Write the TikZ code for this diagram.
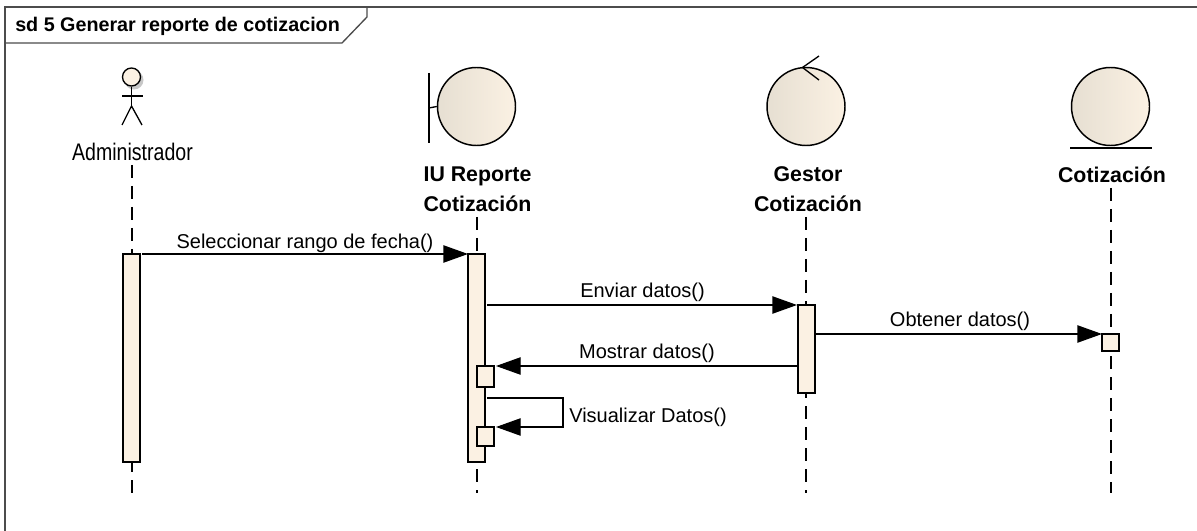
\documentclass[tikz,border=0pt]{standalone}
\usepackage{fontspec}
\setmainfont{Liberation Sans}
\usetikzlibrary{arrows.meta}
\definecolor{boxfill}{HTML}{FBF1E3}
\definecolor{ballleft}{HTML}{E6DFD2}
\tikzset{
 x=0.75pt,y=-0.75pt,
 line/.style={draw=black,line width=1pt},
 lifeline/.style={draw=black,line width=1pt,dash pattern=on 10pt off 5.75pt},
 bar/.style={draw=black,line width=1.1pt,fill=boxfill},
 msg/.style={line,-{Triangle[length=18.5pt,width=13pt]}},
 ball/.style={circle,draw=black,line width=1.1pt,minimum size=58.5pt,inner sep=0pt,left color=ballleft,right color=boxfill},
 lbl/.style={font=\fontsize{15pt}{17pt}\selectfont,inner sep=0pt,text=black},
 head/.style={font=\fontsize{16pt}{22.5pt}\selectfont\bfseries,inner sep=0pt,align=center,text=black},
}
\begin{document}
\begin{tikzpicture}
\useasboundingbox (0,0) rectangle (1197,531);
\fill[white] (0,0) rectangle (1197,531);
% frame
\draw[draw=black!70,line width=1pt] (5,531) -- (5,7) -- (1197,7);
\coordinate (tabA) at (5,43);
\coordinate (tabB) at (342,43);
\coordinate (tabC) at (367,17);
\coordinate (tabD) at (367,7);
\draw[draw=black!70,line width=1pt] (tabA) -- (tabB) -- (tabC) -- (tabD);
\node[anchor=west,inner sep=0pt,font=\fontsize{14.8pt}{17pt}\selectfont\bfseries] (title) at (15,26) {sd 5 Generar reporte de cotizacion};
% actor
\fill[black!22] (134,80) circle (9.5);
\node[circle,draw=black,line width=1pt,fill=boxfill,minimum size=13.5pt,inner sep=0pt] (head) at (131.5,77) {};
\coordinate (hip) at (131.5,106);
\draw[line] (head.south) -- (hip);
\draw[line] (122,96) -- (143,96);
\draw[line] (122,125) -- (hip) -- (142,125);
\node[font=\fontsize{18pt}{20pt}\selectfont,inner sep=0pt,xscale=0.815] (adm) at (132.5,152) {Administrador};
% boundary
\node[ball] (iu) at (476.5,106.5) {};
\draw[line] (429,73) -- (429,143);
\draw[line] (429,108) -- (iu.west);
\node[head] (iul) at (477.5,189.5) {IU Reporte\\Cotización};
% control
\node[ball] (ctl) at (806,106.5) {};
\draw[line] (819,56) -- (802.5,67.5) -- (819,80);
\node[head] (ctll) at (808,189.5) {Gestor\\Cotización};
% entity
\node[ball] (ent) at (1110.5,106.5) {};
\draw[line] (1070,148) -- (1152,148);
\node[head] (entl) at (1112,174.5) {Cotización};
% lifelines
\coordinate (l1t) at (132,165); \coordinate (l1b) at (132,493);
\coordinate (l2t) at (477,217); \coordinate (l2b) at (477,493);
\coordinate (l3t) at (806,217); \coordinate (l3b) at (806,493);
\coordinate (l4t) at (1111,188); \coordinate (l4b) at (1111,493);
\draw[lifeline] (l1t) -- (l1b);
\draw[lifeline] (l2t) -- (l2b);
\draw[lifeline] (l3t) -- (l3b);
\draw[lifeline] (l4t) -- (l4b);
% activations
\draw[bar] (123,254) rectangle (140,462);
\draw[bar] (468,254) rectangle (485,462);
\draw[bar] (798,305) rectangle (815,393);
\draw[bar] (477,366) rectangle (494,387);
\draw[bar] (477,427) rectangle (494,446);
\draw[bar] (1102,334) rectangle (1119,351);
% messages
\coordinate (m1a) at (142,254); \coordinate (m1b) at (468,254);
\coordinate (m2a) at (487,305); \coordinate (m2b) at (797,305);
\coordinate (m3a) at (816,334); \coordinate (m3b) at (1102,334);
\coordinate (m4a) at (797,366); \coordinate (m4b) at (496,366);
\draw[msg] (m1a) -- (m1b);
\draw[msg] (m2a) -- (m2b);
\draw[msg] (m3a) -- (m3b);
\draw[msg] (m4a) -- (m4b);
\coordinate (s1) at (487,398); \coordinate (s2) at (563,398);
\coordinate (s3) at (563,427); \coordinate (s4) at (496,427);
\draw[msg] (s1) -- (s2) -- (s3) -- (s4);
\node[lbl] (t1) at (305,243) {Seleccionar rango de fecha()};
\node[lbl] (t2) at (642.5,292) {Enviar datos()};
\node[lbl] (t3) at (960,321) {Obtener datos()};
\node[lbl] (t4) at (647,353) {Mostrar datos()};
\node[lbl] (t5) at (648,417) {Visualizar Datos()};
\end{tikzpicture}
\end{document}
